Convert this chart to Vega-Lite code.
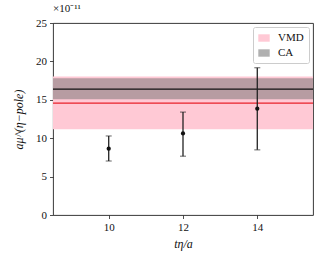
{
  "$schema": "https://vega.github.io/schema/vega-lite/v6.json",
  "autosize": {"type": "none"},
  "padding": {"left": 53, "top": 23, "right": 11, "bottom": 48},
  "width": 260,
  "height": 192,
  "background": "white",
  "config": {
    "font": "Liberation Serif",
    "view": {"stroke": "#222", "strokeWidth": 0.9},
    "axis": {"domain": false, "grid": false, "tickColor": "#222", "tickSize": 3.5, "tickWidth": 0.8, "labelFontSize": 11, "labelColor": "#111", "titleFontSize": 12, "titleColor": "#111", "titleFontWeight": "normal", "labelPadding": 3, "labelFont": "Liberation Serif", "titleFont": "Liberation Serif"}
  },
  "title": {"text": "×10⁻¹¹", "anchor": "start", "frame": "group", "fontSize": 11, "fontWeight": "normal", "color": "#111", "offset": 3, "font": "Liberation Serif"},
  "datasets": {
    "bands": [
      {"name": "VMD", "lo": 11.17, "mid": 14.56, "hi": 18.03},
      {"name": "CA", "lo": 15.08, "mid": 16.39, "hi": 17.82}
    ],
    "points": [
      {"t": 10, "val": 8.64, "lo": 7.03, "hi": 10.29},
      {"t": 12, "val": 10.62, "lo": 7.66, "hi": 13.4},
      {"t": 14, "val": 13.85, "lo": 8.48, "hi": 19.17}
    ]
  },
  "layer": [
    {
      "data": {"name": "bands"},
      "mark": {"type": "rect"},
      "encoding": {
        "y": {"field": "lo", "type": "quantitative", "scale": {"domain": [0, 25], "nice": false}, "axis": {"values": [0, 5, 10, 15, 20, 25], "title": "aμ^(η−pole)", "titleFontStyle": "italic", "titlePadding": 10}},
        "y2": {"field": "hi"},
        "fill": {"field": "name", "type": "nominal", "scale": {"domain": ["VMD", "CA"], "range": ["#ffc9d5", "#6f6f6f"]},
          "legend": {"title": null, "orient": "top-right", "offset": 4, "strokeColor": "#cccccc", "fillColor": "white", "padding": 5, "cornerRadius": 2, "labelFontSize": 11, "labelFont": "Liberation Serif", "labelColor": "#111", "symbolType": "M-1,-0.65L1,-0.65L1,0.65L-1,0.65Z", "symbolSize": 130, "symbolStrokeWidth": 0, "rowPadding": 4, "labelOffset": 8,
            "encode": {"symbols": {"update": {"opacity": {"signal": "datum.value === 'CA' ? 0.55 : 1"}}}}}},
        "fillOpacity": {"field": "name", "type": "nominal", "scale": {"domain": ["VMD", "CA"], "range": [1, 0.5]}, "legend": null}
      }
    },
    {
      "data": {"name": "bands"},
      "mark": {"type": "rule", "strokeWidth": 1.2},
      "encoding": {
        "y": {"field": "mid", "type": "quantitative", "axis": {"values": [0, 5, 10, 15, 20, 25], "title": "aμ^(η−pole)", "titleFontStyle": "italic", "titlePadding": 10}},
        "stroke": {"condition": {"test": "datum.name === 'VMD'", "value": "#e8202a"}, "value": "#111111"}
      }
    },
    {
      "data": {"name": "points"},
      "mark": {"type": "errorbar", "ticks": {"size": 6, "color": "#222"}, "rule": {"color": "#222", "strokeWidth": 1.3}},
      "encoding": {
        "x": {"field": "t", "type": "quantitative", "scale": {"domain": [8.5, 15.5], "nice": false, "zero": false}, "axis": {"values": [10, 12, 14], "title": "tη/a", "titleFontStyle": "italic", "titlePadding": 6}},
        "y": {"field": "lo", "type": "quantitative", "axis": {"values": [0, 5, 10, 15, 20, 25], "title": "aμ^(η−pole)", "titleFontStyle": "italic", "titlePadding": 10}},
        "y2": {"field": "hi"}
      }
    },
    {
      "data": {"name": "points"},
      "mark": {"type": "point", "filled": true, "color": "#111", "size": 18, "opacity": 1},
      "encoding": {
        "x": {"field": "t", "type": "quantitative", "axis": {"values": [10, 12, 14], "title": "tη/a", "titleFontStyle": "italic", "titlePadding": 6}},
        "y": {"field": "val", "type": "quantitative", "axis": {"values": [0, 5, 10, 15, 20, 25], "title": "aμ^(η−pole)", "titleFontStyle": "italic", "titlePadding": 10}}
      }
    }
  ]
}
